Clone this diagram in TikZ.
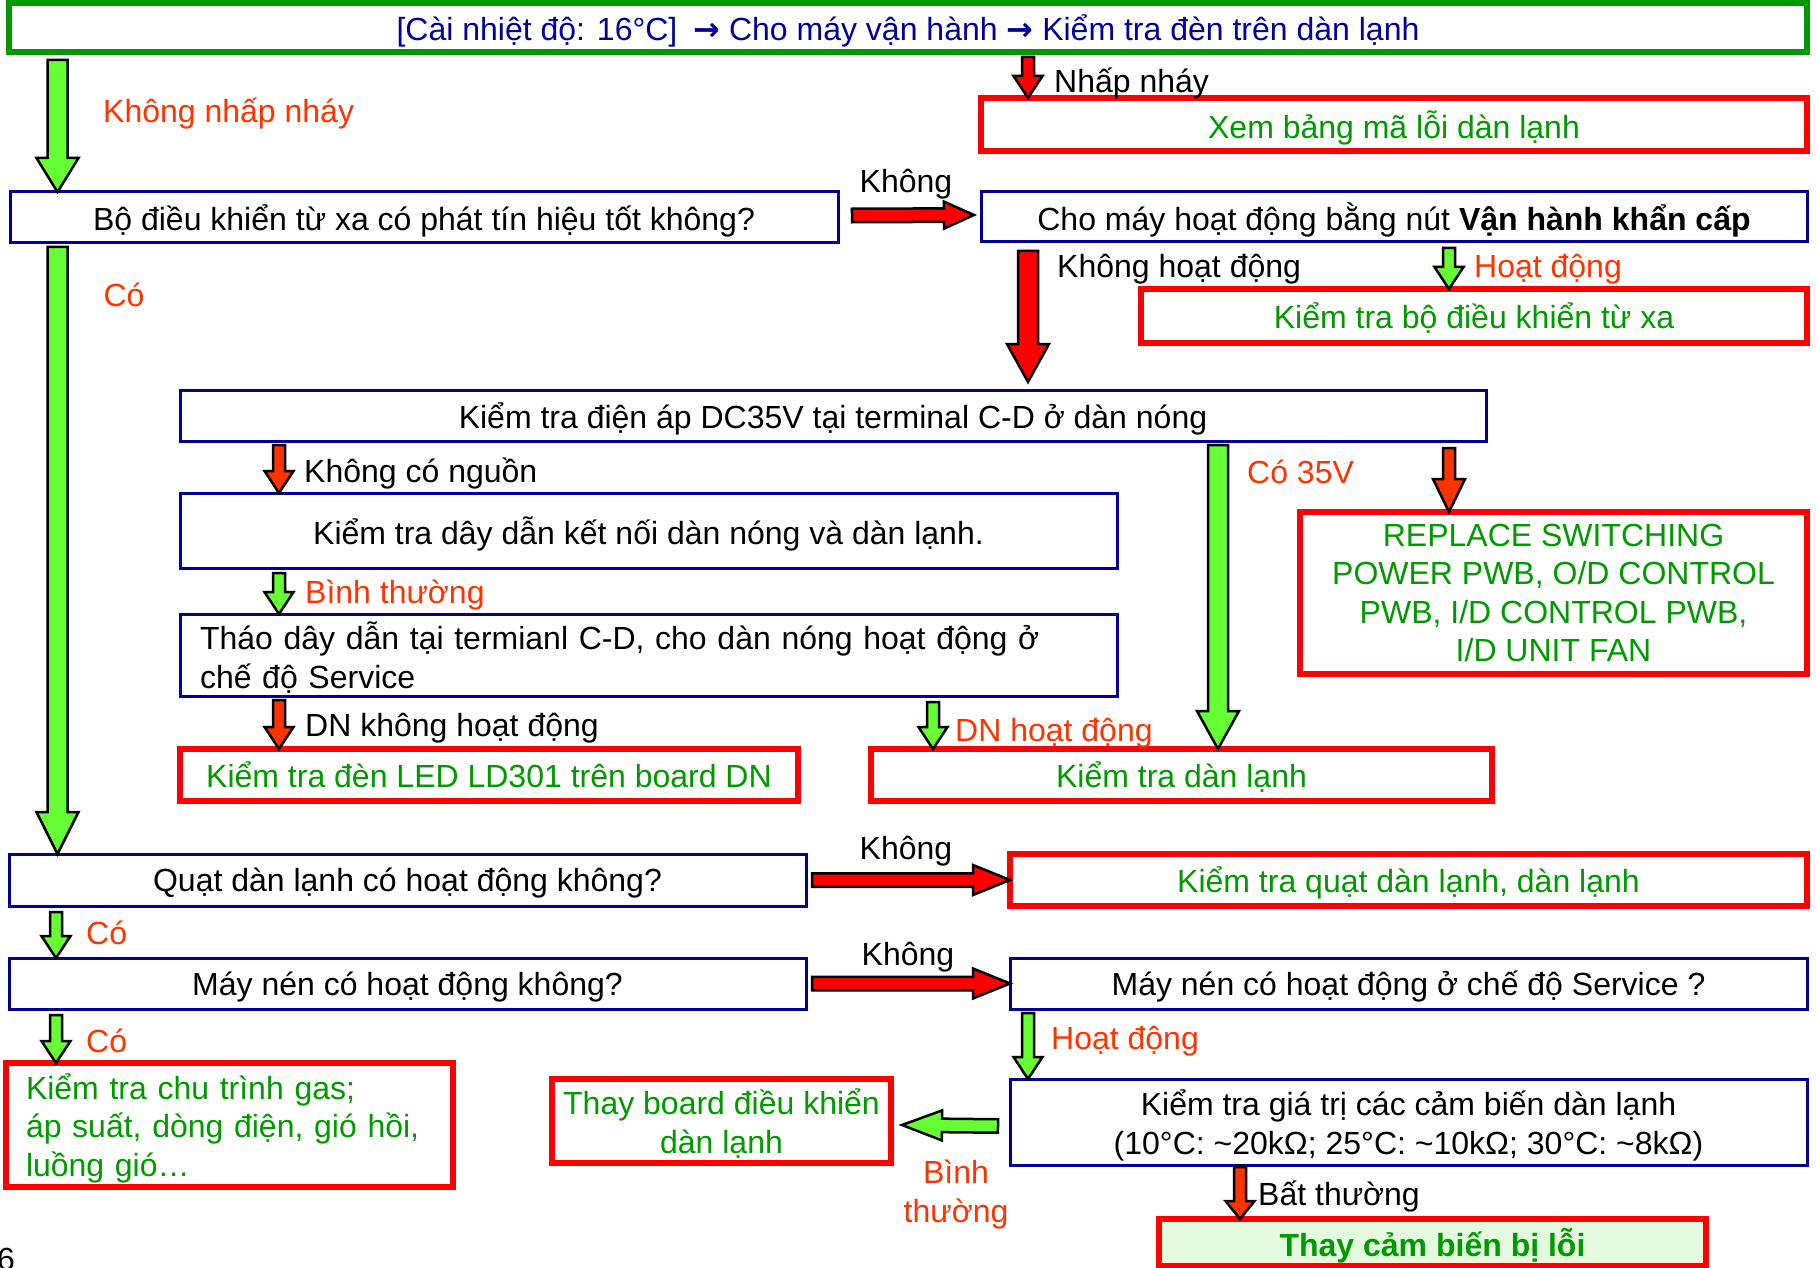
\documentclass[tikz,border=0pt]{standalone}
\usepackage{fontspec}
\setmainfont{Liberation Sans}
\newfontfamily\arrowfont{DejaVu Sans}
\usetikzlibrary{calc}

\definecolor{boxblue}{RGB}{0,0,153}
\definecolor{alarm}{RGB}{255,0,0}
\definecolor{ember}{RGB}{255,51,0}
\definecolor{leaf}{RGB}{0,153,0}
\definecolor{gofill}{RGB}{102,255,51}
\definecolor{mint}{RGB}{228,250,222}

\tikzset{
  shaft/.store in=\fashaft, barb/.store in=\fabarb, tiplen/.store in=\falen,
  shaft=6pt, barb=14pt, tiplen=22pt,
  fat/.style={draw=black, line width=2.5pt, line join=miter, fill=#1,
    to path={($(\tikztostart)!\fashaft!90:(\tikztotarget)$)
      -- ($($(\tikztotarget)!\falen!(\tikztostart)$)!\fashaft!90:(\tikztotarget)$)
      -- ($($(\tikztotarget)!\falen!(\tikztostart)$)!\fabarb!90:(\tikztotarget)$)
      -- (\tikztotarget)
      -- ($($(\tikztotarget)!\falen!(\tikztostart)$)!\fabarb!-90:(\tikztotarget)$)
      -- ($($(\tikztotarget)!\falen!(\tikztostart)$)!\fashaft!-90:(\tikztotarget)$)
      -- ($(\tikztostart)!\fashaft!-90:(\tikztotarget)$) -- cycle}},
  bigarrow/.style={fat=#1, shaft=10pt, barb=21pt, tiplen=38pt},
  widearrow/.style={fat=#1, shaft=6.75pt, barb=15pt, tiplen=37pt},
  smallarrow/.style={fat=#1, shaft=6pt, barb=14.5pt, tiplen=22pt},
  box/.style={draw=boxblue, line width=3pt, fill=white, inner sep=0pt,
    outer sep=0pt, anchor=north west, align=center, text depth=0pt},
  fixbox/.style={box, draw=alarm, line width=6pt, text=leaf},
  sized/.style 2 args={minimum width=#1pt, minimum height=#2pt},
  say/.style={anchor=west, inner sep=0pt, text depth=0pt},
  okay/.style={say, text=ember},
}

\begin{document}
\begin{tikzpicture}[x=1pt, y=-1pt, font=\fontsize{32}{38.5}\selectfont]
  \useasboundingbox (0,0) rectangle (1816,1268);

  \node[box, draw=leaf, line width=6pt, text=boxblue, sized={1798}{49}] (start) at (9,3)
    {[Cài nhiệt độ: 16°C]\enspace{\arrowfont\bfseries →} Cho máy vận hành {\arrowfont\bfseries →} Kiểm tra đèn trên dàn lạnh};
  \node[fixbox, sized={826}{53}] (xem) at (981,98) {Xem bảng mã lỗi dàn lạnh};
  \node[box, sized={828}{51}] (signal) at (10,192) {Bộ điều khiển từ xa có phát tín hiệu tốt không?};
  \node[box, sized={826}{50}] (emerg) at (981,192) {Cho máy hoạt động bằng nút \textbf{Vận hành khẩn cấp}};
  \node[fixbox, sized={666}{54}] (remotechk) at (1141,289) {Kiểm tra bộ điều khiển từ xa};
  \node[box, sized={1306}{51}] (dc) at (180,390) {Kiểm tra điện áp DC35V tại terminal C-D ở dàn nóng};
  \node[box, sized={937}{75}] (wire) at (180,493) {Kiểm tra dây dẫn kết nối dàn nóng và dàn lạnh.};
  \node[box, sized={937}{82}, inner xsep=20pt, text width=897pt, align=left, text depth=38.5pt] (service) at (180,614)
    {Tháo dây dẫn tại termianl C-D, cho dàn nóng hoạt động ở\\chế độ Service};
  \node[fixbox, sized={507}{162}] (replace) at (1300,512)
    {REPLACE SWITCHING\\POWER PWB, O/D CONTROL\\PWB, I/D CONTROL PWB,\\I/D UNIT FAN};
  \node[fixbox, sized={618}{52}] (led) at (180,749) {Kiểm tra đèn LED LD301 trên board DN};
  \node[fixbox, sized={621}{52}] (indoor) at (871,749) {Kiểm tra dàn lạnh};
  \node[box, sized={797}{52}] (fan) at (9,854) {Quạt dàn lạnh có hoạt động không?};
  \node[fixbox, sized={797}{52}] (fanchk) at (1010,854) {Kiểm tra quạt dàn lạnh, dàn lạnh};
  \node[box, sized={797}{51}] (comp) at (9,958) {Máy nén có hoạt động không?};
  \node[box, sized={797}{51}] (compsrv) at (1010,958) {Máy nén có hoạt động ở chế độ Service ?};
  \node[fixbox, sized={447}{124}, inner xsep=20pt, text width=407pt, align=left, text depth=77pt] (gas) at (6,1063)
    {Kiểm tra chu trình gas;\\áp suất, dòng điện, gió hồi,\\luồng gió…};
  \node[fixbox, sized={339}{84}] (board) at (552,1079) {Thay board điều khiển\\dàn lạnh};
  \node[box, sized={797}{86}] (sensor) at (1010,1079)
    {Kiểm tra giá trị các cảm biến dàn lạnh\\(10°C: \textasciitilde{}20kΩ; 25°C: \textasciitilde{}10kΩ; 30°C: \textasciitilde{}8kΩ)};
  \node[fixbox, fill=mint, sized={547}{47}, font=\fontsize{32}{38.5}\selectfont\bfseries] (newsensor) at (1159,1219)
    {Thay cảm biến bị lỗi};

  \coordinate (colS) at (56,0);
  \coordinate (colL) at (57.5,0);
  \coordinate (colK) at (279,0);
  \coordinate (colD) at (933,0);
  \coordinate (colM) at (1028,0);
  \coordinate (col35) at (1218,0);
  \coordinate (colB) at (1240,0);
  \coordinate (colH) at (1449,0);

  \draw[bigarrow=gofill, tiplen=34pt] ($(start.south -| colL)+(0,8)$) to (signal.north -| colL);
  \draw[smallarrow=alarm] ($(start.south -| colM)+(0,5)$) to (xem.north -| colM);
  \draw[widearrow=alarm, tiplen=30pt, barb=13.5pt] ($(signal.east)+(14,-2)$) to ($(emerg.west)+(-7,-2)$);
  \draw[bigarrow=alarm] ($(emerg.south -| colM)+(0,9)$) to ($(dc.north -| colM)+(0,-8)$);
  \draw[smallarrow=gofill] ($(emerg.south -| colH)+(0,6)$) to (remotechk.north -| colH);
  \draw[bigarrow=gofill, tiplen=42pt] ($(signal.south -| colL)+(0,4)$) to (fan.north -| colL);
  \draw[smallarrow=ember] ($(dc.south -| colK)+(0,4)$) to (wire.north -| colK);
  \draw[bigarrow=gofill] ($(dc.south -| col35)+(0,4)$) to (indoor.north -| col35);
  \draw[smallarrow=ember, tiplen=33pt, barb=16pt] ($(dc.south -| colH)+(0,7)$) to (replace.north -| colH);
  \draw[smallarrow=gofill] ($(wire.south -| colK)+(0,5)$) to (service.north -| colK);
  \draw[smallarrow=ember] ($(service.south -| colK)+(0,4)$) to (led.north -| colK);
  \draw[smallarrow=gofill] ($(service.south -| colD)+(0,6)$) to (indoor.north -| colD);
  \draw[widearrow=alarm] ($(fan.east)+(6,0)$) to (fanchk.west);
  \draw[smallarrow=gofill] ($(fan.south -| colS)+(0,6)$) to (comp.north -| colS);
  \draw[widearrow=alarm] ($(comp.east)+(6,0)$) to (compsrv.west);
  \draw[smallarrow=gofill] ($(comp.south -| colS)+(0,6)$) to (gas.north -| colS);
  \draw[smallarrow=gofill] ($(compsrv.south -| colM)+(0,4)$) to (sensor.north -| colM);
  \draw[widearrow=gofill, tiplen=40pt] ($(sensor.west)+(-12,4)$) to ($(board.east)+(11,4)$);
  \draw[smallarrow=ember, tiplen=18pt] ($(sensor.south -| colB)+(0,2)$) to (newsensor.north -| colB);

  \node[okay] (nflash) at (103,110) {Không nhấp nháy};
  \node[say] (flash) at (1054,80) {Nhấp nháy};
  \node[say, anchor=center] (no1) at (906,181) {Không};
  \node[say] (norun) at (1057,266) {Không hoạt động};
  \node[okay] (run) at (1474,266) {Hoạt động};
  \node[okay, anchor=center] (yes1) at (124,295) {Có};
  \node[say] (nopower) at (304,470) {Không có nguồn};
  \node[okay] (v35) at (1247,472) {Có 35V};
  \node[okay] (normal1) at (305,592) {Bình thường};
  \node[say] (dnoff) at (305,725) {DN không hoạt động};
  \node[okay] (dnon) at (955,730) {DN hoạt động};
  \node[say, anchor=center] (no2) at (906,848) {Không};
  \node[okay] (yes2) at (86,933) {Có};
  \node[say, anchor=center] (no3) at (908,954) {Không};
  \node[okay] (yes3) at (86,1041) {Có};
  \node[okay] (run2) at (1051,1038) {Hoạt động};
  \node[okay, anchor=center, align=center] (normal2) at (956,1191) {Bình\\thường};
  \node[say] (abnormal) at (1258,1193) {Bất thường};
  \node[anchor=north west, inner sep=0pt] (pageno) at (-3,1248) {6};
\end{tikzpicture}
\end{document}
